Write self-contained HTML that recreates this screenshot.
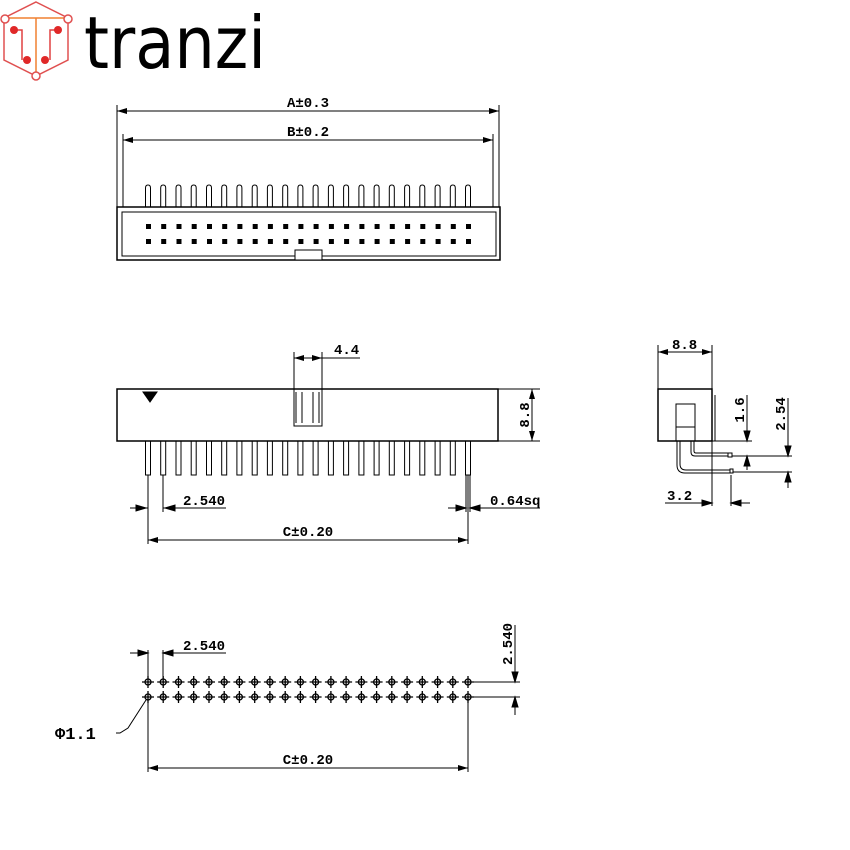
<!DOCTYPE html>
<html><head><meta charset="utf-8"><style>
html,body{margin:0;padding:0;background:#fff;}
svg{display:block;}
text{font-family:"Liberation Mono","DejaVu Sans Mono",monospace;font-weight:bold;fill:#000;}
</style></head><body>
<svg width="850" height="850" viewBox="0 0 850 850" xmlns="http://www.w3.org/2000/svg">
<defs>
<marker id="ar" viewBox="0 0 10 6" refX="10" refY="3" markerWidth="10" markerHeight="6" orient="auto-start-reverse" markerUnits="userSpaceOnUse"><path d="M0,0L10,3L0,6z" fill="#000"/></marker>
<g id="tp"><path d="M-2.5,207V188q0-3 2.5-3q2.5,0 2.5,3V207" fill="none" stroke="#000" stroke-width="1"/><rect x="-2" y="224" width="5" height="5" fill="#000"/><rect x="-2" y="239" width="5" height="5" fill="#000"/></g>
<g id="sp"><rect x="-2.5" y="441" width="5" height="34" fill="none" stroke="#000" stroke-width="1"/></g>
<g id="hl" stroke="#000" stroke-width="1.3" fill="none"><circle cx="0" cy="682" r="3"/><path d="M-6,682H6M0,676V688"/><circle cx="0" cy="697" r="3"/><path d="M-6,697H6M0,691V703"/></g>
</defs>

<!-- logo -->
<g stroke="#e03030" stroke-width="1.5" fill="none">
<path d="M36,2L68,18V60L36,76L4,60V18Z" stroke="#e05050"/>
<path d="M4,18H68" stroke="#f08030"/><path d="M36,18V76" stroke="#f08030"/>
<path d="M14,30H22V60M58,30H50V60" stroke="#e04040"/>
</g>
<g fill="#e02828"><circle cx="14" cy="30" r="4"/><circle cx="58" cy="30" r="4"/><circle cx="27" cy="60" r="4"/><circle cx="45" cy="60" r="4"/></g>
<g fill="#fff" stroke="#e05050" stroke-width="1.5"><circle cx="5" cy="19" r="4"/><circle cx="68" cy="19" r="4"/><circle cx="36" cy="76" r="4"/></g>
<text x="84" y="68" textLength="182" lengthAdjust="spacingAndGlyphs" style="font-family:'DejaVu Sans',sans-serif;font-weight:normal;font-size:72px">tranzi</text>

<g stroke="#000" stroke-width="1" fill="none">
<!-- top view -->
<path d="M117,105V207M499,105V207M123,134V207M493,134V207"/>
<line x1="117" y1="111" x2="499" y2="111" marker-start="url(#ar)" marker-end="url(#ar)"/>
<line x1="123" y1="140" x2="493" y2="140" marker-start="url(#ar)" marker-end="url(#ar)"/>
<rect x="117" y="207" width="383" height="53" stroke-width="1.5"/>
<rect x="122" y="212" width="374" height="44"/>
<rect x="295" y="250" width="27" height="10" fill="#fff"/>

<!-- side view -->
<rect x="117" y="389" width="381" height="52" stroke-width="1.5"/>
<rect x="294" y="389" width="28" height="37"/>
<path d="M296,392V423M302,392V423M313,392V423M319,392V423"/>
<path d="M294,352V389M322,352V389M322,358H360"/>
<line x1="294" y1="358" x2="322" y2="358" marker-start="url(#ar)" marker-end="url(#ar)"/>
<path d="M498,389H540M498,441H540"/>
<line x1="532" y1="389" x2="532" y2="441" marker-start="url(#ar)" marker-end="url(#ar)"/>
<path d="M148,475V544M163,475V512M468,475V544M466,475V512M470,475V512"/>
<path d="M130,508H148M163,508H226"/>
<path d="M146,508l-10,-3v6z M165,508l10,-3v6z" fill="#000"/>
<path d="M448,508H466M470,508H540"/>
<path d="M466,508l-10,-3v6z M470,508l10,-3v6z" fill="#000"/>
<line x1="148" y1="540" x2="468" y2="540" marker-start="url(#ar)" marker-end="url(#ar)"/>
<path d="M143,392H157L150,402Z" fill="#000"/>

<!-- right view -->
<rect x="658" y="389" width="54" height="52" stroke-width="1.5"/>
<path d="M715,395V441"/>
<rect x="676" y="404" width="19" height="37"/>
<path d="M676,427H695"/>
<path d="M691,441V452q0,4 4,4H728M694,441V451q0,2 2,2H728"/>
<path d="M677,441V465q0,8 8,8H730M680,441V464q0,6 6,6H730"/>
<rect x="728" y="453" width="4" height="4"/><rect x="730" y="469" width="3" height="4"/>
<path d="M658,345V389M712,345V389"/>
<line x1="658" y1="352" x2="712" y2="352" marker-start="url(#ar)" marker-end="url(#ar)"/>
<path d="M712,441H752M732,456H792M733,472H792"/>
<path d="M747,395V441M747,456V470"/>
<path d="M747,441l-3,-10h6z M747,456l-3,10h6z" fill="#000"/>
<path d="M788,398V456M788,472V488"/>
<path d="M788,456l-3,-10h6z M788,472l-3,10h6z" fill="#000"/>
<path d="M712,441V506M731,475V506"/>
<path d="M665,503H712M731,503H750"/>
<path d="M712,503l-10,-3v6z M731,503l10,-3v6z" fill="#000"/>

<!-- bottom view -->
<path d="M148,650V682M163,650V682M130,653H148M163,653H226"/>
<path d="M148,653l-10,-3v6z M163,653l10,-3v6z" fill="#000"/>
<path d="M148,697V772M468,697V772"/>
<line x1="148" y1="768" x2="468" y2="768" marker-start="url(#ar)" marker-end="url(#ar)"/>
<path d="M468,682H520M468,697H520"/>
<path d="M515,625V682M515,697V715"/>
<path d="M515,682l-3,-10h6z M515,697l-3,10h6z" fill="#000"/>
<path d="M146,700L128,728L120,733H116"/>
</g>

<g>
<use href="#tp" x="148"/><use href="#tp" x="163.2"/><use href="#tp" x="178.5"/><use href="#tp" x="193.7"/><use href="#tp" x="209"/><use href="#tp" x="224.2"/><use href="#tp" x="239.4"/><use href="#tp" x="254.7"/><use href="#tp" x="269.9"/><use href="#tp" x="285.2"/><use href="#tp" x="300.4"/><use href="#tp" x="315.6"/><use href="#tp" x="330.9"/><use href="#tp" x="346.1"/><use href="#tp" x="361.4"/><use href="#tp" x="376.6"/><use href="#tp" x="391.8"/><use href="#tp" x="407.1"/><use href="#tp" x="422.3"/><use href="#tp" x="437.6"/><use href="#tp" x="452.8"/><use href="#tp" x="468"/>
<use href="#sp" x="148"/><use href="#sp" x="163.2"/><use href="#sp" x="178.5"/><use href="#sp" x="193.7"/><use href="#sp" x="209"/><use href="#sp" x="224.2"/><use href="#sp" x="239.4"/><use href="#sp" x="254.7"/><use href="#sp" x="269.9"/><use href="#sp" x="285.2"/><use href="#sp" x="300.4"/><use href="#sp" x="315.6"/><use href="#sp" x="330.9"/><use href="#sp" x="346.1"/><use href="#sp" x="361.4"/><use href="#sp" x="376.6"/><use href="#sp" x="391.8"/><use href="#sp" x="407.1"/><use href="#sp" x="422.3"/><use href="#sp" x="437.6"/><use href="#sp" x="452.8"/><use href="#sp" x="468"/>
<use href="#hl" x="148"/><use href="#hl" x="163.2"/><use href="#hl" x="178.5"/><use href="#hl" x="193.7"/><use href="#hl" x="209"/><use href="#hl" x="224.2"/><use href="#hl" x="239.4"/><use href="#hl" x="254.7"/><use href="#hl" x="269.9"/><use href="#hl" x="285.2"/><use href="#hl" x="300.4"/><use href="#hl" x="315.6"/><use href="#hl" x="330.9"/><use href="#hl" x="346.1"/><use href="#hl" x="361.4"/><use href="#hl" x="376.6"/><use href="#hl" x="391.8"/><use href="#hl" x="407.1"/><use href="#hl" x="422.3"/><use href="#hl" x="437.6"/><use href="#hl" x="452.8"/><use href="#hl" x="468"/>
</g>

<g font-size="14">
<text x="308" y="107" text-anchor="middle">A±0.3</text>
<text x="308" y="136" text-anchor="middle">B±0.2</text>
<text x="334" y="354">4.4</text>
<text x="183" y="505">2.540</text>
<text x="490" y="505">0.64sq</text>
<text x="308" y="536" text-anchor="middle">C±0.20</text>
<text x="0" y="0" transform="translate(529,415) rotate(-90)" text-anchor="middle">8.8</text>
<text x="672" y="349">8.8</text>
<text x="0" y="0" transform="translate(744,410) rotate(-90)" text-anchor="middle">1.6</text>
<text x="0" y="0" transform="translate(785,414) rotate(-90)" text-anchor="middle">2.54</text>
<text x="667" y="500">3.2</text>
<text x="183" y="650">2.540</text>
<text x="0" y="0" transform="translate(512,644) rotate(-90)" text-anchor="middle">2.540</text>
<text x="308" y="764" text-anchor="middle">C±0.20</text>
<text x="55" y="739" font-size="17">Φ1.1</text>
</g>
</svg>
</body></html>
